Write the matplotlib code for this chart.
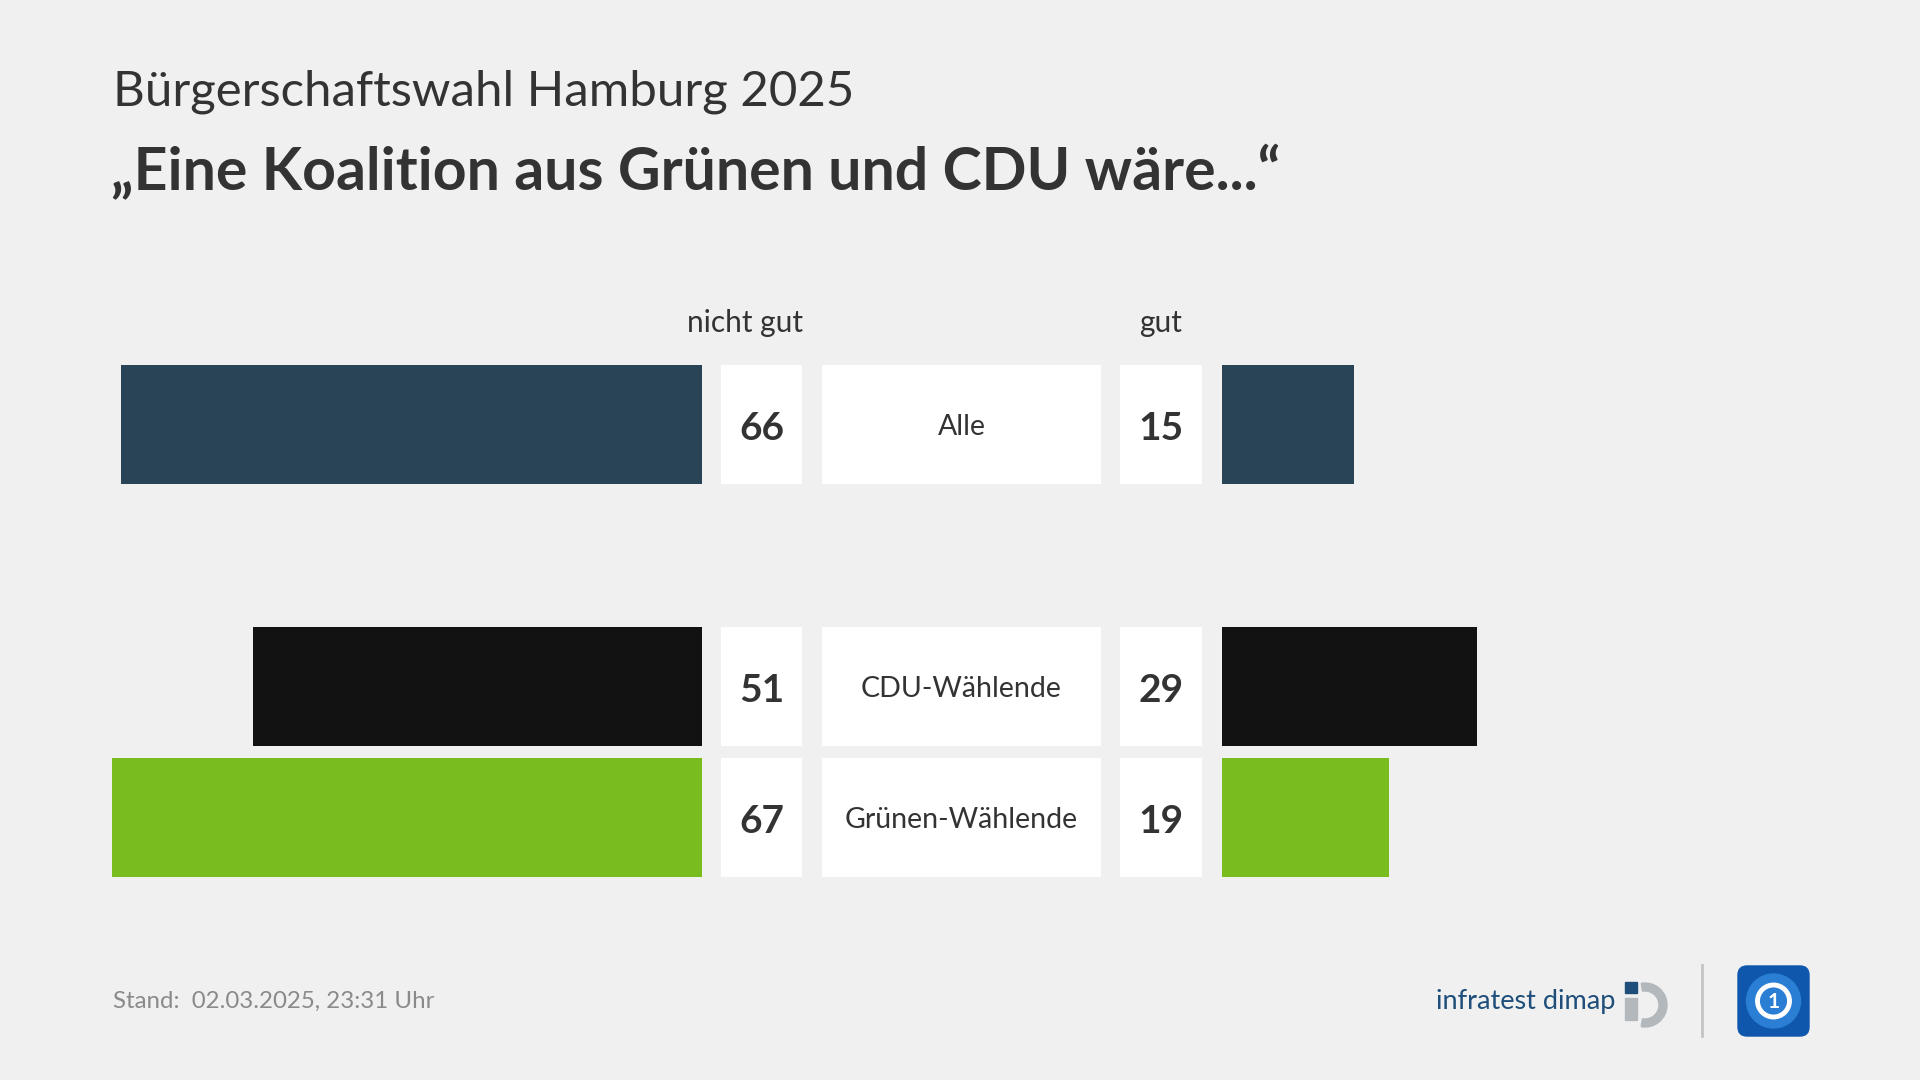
import numpy as np
import matplotlib
matplotlib.use("Agg")
from matplotlib import pyplot as plt
from matplotlib.patches import Rectangle, FancyBboxPatch, Wedge, Circle

# data
groups = ["Alle", "CDU-Wählende", "Grünen-Wählende"]
nicht_gut = [66, 51, 67]
gut = [15, 29, 19]
row_pos = [0, 2, 3]  # gap after "Alle"
bar_colors = ["#2a4457", "#121212", "#78bc1e"]

subtitle = "Bürgerschaftswahl Hamburg 2025"
title = "„Eine Koalition aus Grünen und CDU wäre...“"
head_left = "nicht gut"
head_right = "gut"
footer = "Stand:  02.03.2025, 23:31 Uhr"

plt.rcParams['font.family'] = ['Lato', 'DejaVu Sans']

W, H = 1920, 1080
bg = "#f0f0f0"
fig = plt.figure(figsize=(19.2, 10.8), dpi=100, facecolor=bg)

# pixel layout
px_per_unit = 8.8
xmax = 70
axw = xmax * px_per_unit
y_top, y_bot = 359, 883
ylim = (3.5, -0.5)
bh = 0.91

def fx(px):
    return px / W

ax_bot = (H - y_bot) / H
ax_h = (y_bot - y_top) / H

axL = fig.add_axes([fx(702 - axw), ax_bot, fx(axw), ax_h])
axR = fig.add_axes([fx(1222), ax_bot, fx(axw), ax_h])
axM = fig.add_axes([fx(702), ax_bot, fx(520), ax_h])

axL.barh(row_pos, nicht_gut, height=bh, color=bar_colors)
axL.set_xlim(xmax, 0)
axR.barh(row_pos, gut, height=bh, color=bar_colors)
axR.set_xlim(0, xmax)

# white boxes in middle axes (pixel x)
axM.set_xlim(702, 1222)
boxes = [(721, 802), (822, 1101), (1120, 1202)]
for a, b in boxes:
    axM.barh(row_pos, [b - a] * len(row_pos), left=a, height=bh, color="white")
for i, y in enumerate(row_pos):
    axM.text(761.5, y + 0.03, str(nicht_gut[i]), ha="center", va="center",
             fontsize=28, fontweight="bold", color="#333333")
    axM.text(1161, y + 0.03, str(gut[i]), ha="center", va="center",
             fontsize=28, fontweight="bold", color="#333333")
    axM.text(961.5, y + 0.02, groups[i], ha="center", va="center",
             fontsize=20.5, color="#333333")

for ax in (axL, axR, axM):
    ax.set_ylim(*ylim)
    ax.axis("off")
    ax.set_facecolor("none")

# headings
fig.text(fx(745), 1 - 323 / H, head_left, ha="center", va="center",
         fontsize=21.5, color="#333333")
fig.text(fx(1161), 1 - 323 / H, head_right, ha="center", va="center",
         fontsize=21.5, color="#333333")

fig.text(fx(113), 1 - 106 / H, subtitle, ha="left", va="baseline",
         fontsize=35.4, color="#333333")
fig.text(fx(111), 1 - 190 / H, title, ha="left", va="baseline",
         fontsize=42.5, fontweight="bold", color="#333333")

fig.text(fx(113), 1 - 1001 / H, footer, ha="left", va="center",
         fontsize=17.3, color="#8a8a8a")

# logos (pixel overlay)
axO = fig.add_axes([0, 0, 1, 1], zorder=-1)
axO.set_xlim(0, W)
axO.set_ylim(H, 0)
axO.axis("off")
axO.text(1436, 1001, "infratest dimap", ha="left", va="center",
         fontsize=19.5, color="#1e4e79")
axO.add_patch(Rectangle((1625, 982), 12, 11, color="#1e4e79"))
axO.add_patch(Rectangle((1625, 998), 12, 22, color="#b3b8bd"))
axO.add_patch(Wedge((1645, 1005), 22, -100, 100, width=8, color="#b3b8bd"))
axO.plot([1702, 1702], [965, 1036], color="#c4c4c4", lw=2)
axO.add_patch(FancyBboxPatch((1738, 966), 71, 70,
                             boxstyle="round,pad=0,rounding_size=9",
                             color="#0f56ad"))
axO.add_patch(Circle((1773.5, 1001), 27, color="#2a7fd4"))
axO.add_patch(Circle((1773.5, 1001), 16, fill=False, ec="white", lw=3.5))
axO.text(1773.5, 1002, "1", ha="center", va="center", fontsize=15,
         fontweight="bold", color="white")

fig.savefig("out.png", dpi=100, facecolor=bg)
